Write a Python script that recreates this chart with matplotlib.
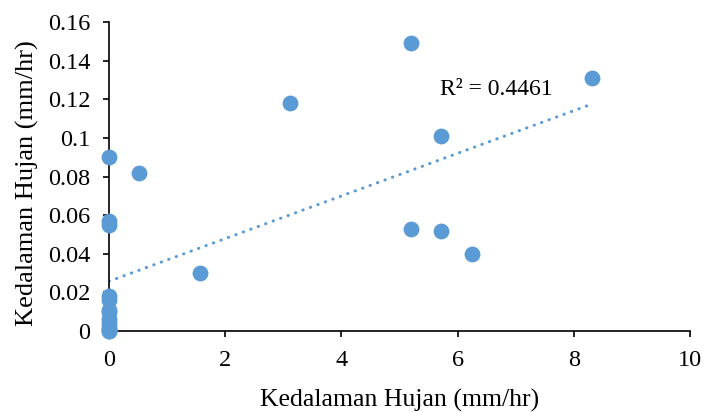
import numpy as np
import matplotlib
matplotlib.use("Agg")
import matplotlib.pyplot as plt

plt.rcParams['font.family'] = ['Liberation Serif', 'DejaVu Serif']

# Observed pairs
x_vals = [0, 0, 0, 0, 0, 0, 0, 0, 0, 0, 0, 0, 0,
          0.52, 1.56, 3.12, 5.2, 5.2, 5.72, 5.72, 6.24, 8.32]
y_vals = [0.090, 0.057, 0.055, 0.018, 0.016, 0.011, 0.010, 0.006, 0.004, 0.002, 0.001, 0.0, 0.0,
          0.082, 0.030, 0.118, 0.149, 0.053, 0.101, 0.052, 0.040, 0.131]
r2_label = "R² = 0.4461"
x_ticks = [0, 2, 4, 6, 8, 10]
y_ticks = [0, 0.02, 0.04, 0.06, 0.08, 0.1, 0.12, 0.14, 0.16]
y_tick_labels = ["0", "0.02", "0.04", "0.06", "0.08", "0.1", "0.12", "0.14", "0.16"]

blue = "#5B9BD5"

fig = plt.figure(figsize=(7.06, 4.12), dpi=100)
ax = fig.add_axes([0.1544, 0.1966, 0.8229, 0.75])

x = np.array(x_vals)
y = np.array(y_vals)
ax.scatter(x, y, s=130, color=blue, zorder=3, linewidths=0, clip_on=False)

# Linear trendline over the data range
slope, intercept = np.polyfit(x, y, 1)
xt = np.array([0, x.max()])
ax.plot(xt, slope * xt + intercept, color=blue, linewidth=2.2,
        linestyle=(0, (0.1, 2.5)), dash_capstyle='round', zorder=2)

ax.text(5.7, 0.125, r2_label, fontsize=17, va='center', ha='left')

ax.set_xlim(0, 10)
ax.set_ylim(0, 0.16)
ax.set_xticks(x_ticks)
ax.set_yticks(y_ticks)
ax.set_yticklabels(y_tick_labels)
ax.tick_params(direction='out', length=4.5, width=1.2, labelsize=17.5)
ax.tick_params(axis='y', pad=9)
ax.tick_params(axis='x', pad=9)
for side in ['top', 'right']:
    ax.spines[side].set_visible(False)
for side in ['left', 'bottom']:
    ax.spines[side].set_linewidth(1.2)

ax.set_xlabel("Kedalaman Hujan (mm/hr)", fontsize=18.5, va='baseline')
ax.xaxis.set_label_coords(0.5, -0.246)
ax.set_ylabel("Kedalaman Hujan (mm/hr)", fontsize=19, va='center')
ax.yaxis.set_label_coords(-0.141, 0.48)

fig.savefig("out.png", dpi=100)
